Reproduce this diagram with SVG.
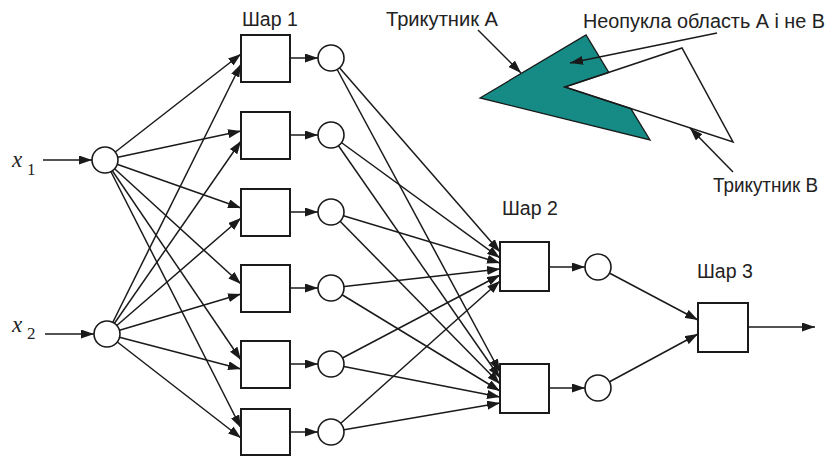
<svg xmlns="http://www.w3.org/2000/svg" width="828" height="457" viewBox="0 0 828 457">
<style>
.ln{stroke:#1a1a1a;stroke-width:1.5;fill:none;marker-end:url(#ah)}
.pl{stroke:#1a1a1a;stroke-width:1.5;fill:none}
.bx{fill:#fff;stroke:#1a1a1a;stroke-width:2}
.cr{fill:#fff;stroke:#1a1a1a;stroke-width:1.6}
.lb{font-family:"Liberation Sans",Arial,sans-serif;font-size:19.5px;fill:#222}
.xv{font-family:"Liberation Serif","Times New Roman",serif;font-style:italic;font-size:23px;fill:#222}
.sb{font-family:"Liberation Serif","Times New Roman",serif;font-size:17px;fill:#222}
</style>
<defs>
<marker id="ah" markerUnits="userSpaceOnUse" markerWidth="13" markerHeight="9" refX="13" refY="4.5" orient="auto">
<path d="M0,0 L13,4.5 L0,9 z" fill="#1a1a1a"/>
</marker>
</defs>
<rect width="828" height="457" fill="#fff"/>
<g id="connectors">
<line class="ln" x1="43" y1="160" x2="92" y2="160"/>
<line class="ln" x1="45" y1="334" x2="94" y2="334"/>
<line class="ln" x1="105" y1="160" x2="241" y2="54"/>
<line class="ln" x1="105" y1="160" x2="241" y2="131"/>
<line class="ln" x1="105" y1="160" x2="241" y2="208"/>
<line class="ln" x1="105" y1="160" x2="241" y2="284"/>
<line class="ln" x1="105" y1="160" x2="241" y2="360"/>
<line class="ln" x1="105" y1="160" x2="241" y2="428"/>
<line class="ln" x1="107" y1="334" x2="241" y2="64"/>
<line class="ln" x1="107" y1="334" x2="241" y2="141"/>
<line class="ln" x1="107" y1="334" x2="241" y2="218"/>
<line class="ln" x1="107" y1="334" x2="241" y2="294"/>
<line class="ln" x1="107" y1="334" x2="241" y2="369"/>
<line class="ln" x1="107" y1="334" x2="241" y2="438"/>
<line class="ln" x1="290" y1="58" x2="318" y2="58"/>
<line class="ln" x1="290" y1="135" x2="318" y2="135"/>
<line class="ln" x1="290" y1="212" x2="318" y2="212"/>
<line class="ln" x1="290" y1="288" x2="318" y2="288"/>
<line class="ln" x1="290" y1="364" x2="318" y2="364"/>
<line class="ln" x1="290" y1="432" x2="318" y2="432"/>
<line class="ln" x1="331" y1="58" x2="500" y2="252"/>
<line class="ln" x1="331" y1="135" x2="500" y2="258"/>
<line class="ln" x1="331" y1="212" x2="500" y2="263"/>
<line class="ln" x1="331" y1="288" x2="500" y2="269"/>
<line class="ln" x1="331" y1="364" x2="500" y2="275"/>
<line class="ln" x1="331" y1="432" x2="500" y2="281"/>
<line class="ln" x1="331" y1="58" x2="500" y2="372"/>
<line class="ln" x1="331" y1="135" x2="500" y2="378"/>
<line class="ln" x1="331" y1="212" x2="500" y2="384"/>
<line class="ln" x1="331" y1="288" x2="500" y2="391"/>
<line class="ln" x1="331" y1="364" x2="500" y2="397"/>
<line class="ln" x1="331" y1="432" x2="500" y2="403"/>
<line class="ln" x1="549" y1="267" x2="585" y2="267"/>
<line class="ln" x1="549" y1="388" x2="585" y2="388"/>
<line class="ln" x1="598" y1="267" x2="698" y2="320"/>
<line class="ln" x1="598" y1="388" x2="698" y2="334"/>
<line class="ln" x1="748" y1="327" x2="815" y2="327"/>
</g>
<g id="inputs">
<text class="xv" x="12" y="167">x</text><text class="sb" x="27" y="175">1</text>
<text class="xv" x="12" y="332">x</text><text class="sb" x="27" y="339">2</text>
</g>
<g id="in1"><circle class="cr" cx="105" cy="160" r="13"/></g>
<g id="in2"><circle class="cr" cx="107" cy="334" r="13"/></g>
<g id="layer1">
<text class="lb" x="242" y="26">Шар 1</text>
<rect class="bx" x="241" y="35" width="49" height="47"/>
<rect class="bx" x="241" y="112" width="49" height="47"/>
<rect class="bx" x="241" y="189" width="49" height="47"/>
<rect class="bx" x="241" y="265" width="49" height="47"/>
<rect class="bx" x="241" y="341" width="49" height="47"/>
<rect class="bx" x="241" y="409" width="49" height="46"/>
</g>
<g id="layer1out">
<circle class="cr" cx="331" cy="58" r="13"/>
<circle class="cr" cx="331" cy="135" r="13"/>
<circle class="cr" cx="331" cy="212" r="13"/>
<circle class="cr" cx="331" cy="288" r="13"/>
<circle class="cr" cx="331" cy="364" r="13"/>
<circle class="cr" cx="331" cy="432" r="13"/>
</g>
<g id="layer2">
<text class="lb" x="502" y="215">Шар 2</text>
<rect class="bx" x="500" y="242" width="49" height="49"/>
<rect class="bx" x="500" y="364" width="49" height="49"/>
<circle class="cr" cx="598" cy="267" r="13"/>
<circle class="cr" cx="598" cy="388" r="13"/>
</g>
<g id="layer3">
<text class="lb" x="697" y="278">Шар 3</text>
<rect class="bx" x="698" y="303" width="50" height="49"/>
</g>
<g id="triangles">
<polygon points="480,98 586,35 608.8,72.4 565,87 630.8,108.6 650,140" fill="#168a84" stroke="#1a1a1a" stroke-width="1.3"/>
<polygon points="565,87 682,48 733,142" class="pl"/>
<line class="ln" x1="478" y1="30" x2="521" y2="73"/>
<line class="ln" x1="717" y1="33" x2="570" y2="63"/>
<line class="ln" x1="733" y1="172" x2="690" y2="128"/>
<text class="lb" x="386" y="26" textLength="112" lengthAdjust="spacingAndGlyphs">Трикутник А</text>
<text class="lb" x="583" y="28" textLength="242" lengthAdjust="spacingAndGlyphs">Неопукла область А і не В</text>
<text class="lb" x="713" y="192" textLength="105" lengthAdjust="spacingAndGlyphs">Трикутник В</text>
</g>
</svg>
